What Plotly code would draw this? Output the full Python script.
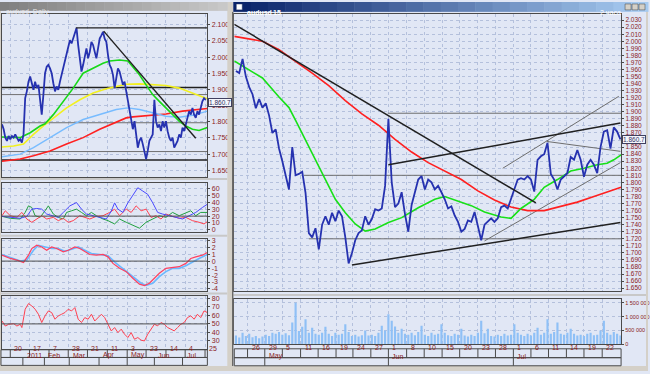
import plotly.graph_objects as go

W, H = 650, 374
def fx(p): return p / W
def fy(p): return 1 - p / H

# ---------------- DATA: left (daily) chart ----------------
left_close = [1.792, 1.777, 1.751, 1.741, 1.756, 1.746, 1.756, 1.751, 1.761, 1.751,
              1.741, 1.746, 1.736, 1.761, 1.873, 1.894, 1.924, 1.940, 1.914, 1.899,
              1.924, 1.904, 1.914, 1.873, 1.822, 1.884, 1.950, 1.970, 1.976, 1.965,
              1.950, 1.919, 1.894, 1.909, 1.899, 1.924, 1.945, 1.965, 1.986, 2.016,
              2.037, 2.052, 2.042, 2.057, 2.078, 2.090, 2.037, 1.986, 1.955, 1.976,
              2.006, 2.027, 1.996, 2.016, 2.047, 2.037, 2.016, 1.996, 2.027, 2.057,
              2.067, 2.078, 2.057, 2.047, 2.006, 1.976, 1.965, 1.945, 1.904, 1.935,
              1.965, 1.955, 1.935, 1.914, 1.924, 1.894, 1.863, 1.833, 1.802, 1.777,
              1.802, 1.761, 1.720, 1.741, 1.751, 1.731, 1.710, 1.685, 1.710, 1.741,
              1.751, 1.761, 1.868, 1.802, 1.782, 1.792, 1.771, 1.802, 1.782, 1.802,
              1.771, 1.751, 1.741, 1.751, 1.720, 1.731, 1.741, 1.761, 1.751, 1.782,
              1.771, 1.792, 1.812, 1.833, 1.822, 1.843, 1.822, 1.812, 1.833, 1.822,
              1.843, 1.863, 1.873, 1.868]

l_green_bar = [1, 12, 14, 18, 24, 27, 32, 38, 44, 50, 56, 62, 66, 72, 77, 80, 84, 88,
               92, 96, 100, 104, 108, 112, 116, 120, 123, 125]
l_green = [1.753, 1.751, 1.756, 1.766, 1.787, 1.794, 1.822, 1.863, 1.904, 1.950, 1.965,
           1.981, 1.988, 1.991, 1.988, 1.970, 1.945, 1.914, 1.884, 1.863, 1.843, 1.822,
           1.802, 1.787, 1.777, 1.773, 1.777, 1.782]
l_yellow_bar = [1, 8, 14, 20, 26, 32, 40, 48, 56, 64, 70, 76, 84, 92, 100, 108, 116, 125]
l_yellow = [1.722, 1.725, 1.731, 1.761, 1.787, 1.812, 1.843, 1.868, 1.889, 1.902, 1.909,
            1.916, 1.917, 1.914, 1.912, 1.904, 1.889, 1.871]
l_lblue_bar = [1, 12, 20, 30, 40, 50, 60, 70, 77, 84, 92, 100, 108, 116, 125]
l_lblue = [1.692, 1.700, 1.720, 1.751, 1.782, 1.807, 1.822, 1.838, 1.843, 1.838, 1.828,
           1.817, 1.814, 1.820, 1.833]
l_red_bar = [1, 12, 20, 30, 40, 50, 60, 70, 76, 80, 90, 100, 110, 120, 125]
l_red = [1.678, 1.685, 1.695, 1.710, 1.731, 1.751, 1.777, 1.800, 1.812, 1.815, 1.820,
         1.824, 1.833, 1.838, 1.841]

# drawn objects on the left chart (time in bars, price)
l_top_line_bar = [45.6, 125]; l_top_line = [2.090, 2.090]
l_trend_bar = [62.4, 118]; l_trend = [2.080, 1.749]
l_black_levels = [1.906, 1.682]
l_gray_levels = [1.884, 1.797, 1.708]

# ADX / DMI panel
adx_blue_bar = [1, 6, 12, 16, 19, 22, 25, 28, 30, 32, 35, 38, 42, 46, 49, 52, 56, 60, 64,
                67, 69, 71, 74, 77, 80, 83, 86, 89, 92, 95, 98, 102, 106, 110, 114, 118,
                122, 125]
adx_blue = [19.7, 18.2, 16.8, 19.7, 30.2, 31.2, 30.2, 23.0, 21.6, 20.6, 18.2, 25.4, 35.0,
            39.8, 30.2, 23.0, 20.6, 18.2, 15.8, 27.4, 39.4, 30.2, 25.4, 39.4, 51.4, 61.4,
            56.6, 51.8, 39.4, 25.4, 23.0, 20.6, 18.2, 15.8, 20.6, 25.4, 32.6, 37.4]
adx_green_bar = [1, 6, 12, 15, 17, 19, 21, 24, 27, 29, 32, 35, 38, 40, 43, 46, 49, 52, 55,
                 58, 62, 65, 69, 72, 76, 80, 84, 88, 92, 96, 100, 104, 108, 112, 115, 118,
                 121, 125]
adx_green = [19.7, 16.8, 15.8, 25.4, 35.0, 32.6, 20.6, 18.2, 27.8, 35.0, 23.0, 18.2, 15.8,
             25.4, 27.8, 30.2, 25.4, 20.6, 25.4, 20.6, 15.8, 13.4, 8.6, 15.8, 11.0, 6.2,
             2.4, 11.0, 15.8, 20.6, 18.2, 25.4, 20.6, 25.4, 27.8, 20.6, 25.4, 25.4]
adx_red_bar = [1, 3, 6, 10, 13, 16, 19, 22, 25, 28, 32, 35, 38, 41, 44, 48, 51, 54, 58, 62,
               66, 69, 72, 76, 79, 82, 85, 88, 91, 94, 97, 100, 104, 108, 112, 116, 120,
               123, 125]
adx_red = [20.6, 27.8, 20.6, 18.2, 25.4, 15.8, 11.0, 15.8, 20.6, 15.8, 18.2, 13.4, 16.8,
           11.0, 13.4, 20.6, 18.2, 15.8, 19.7, 20.6, 25.4, 30.2, 20.6, 30.2, 25.4, 35.0,
           27.8, 30.2, 18.2, 20.6, 15.8, 23.0, 19.7, 16.8, 18.2, 13.4, 11.0, 8.6, 12.0]

# MACD panel
macd_red_bar = [1, 6, 10, 14, 17, 19, 22, 25, 28, 31, 34, 38, 41, 45, 48, 51, 54, 58, 62,
                65, 68, 72, 76, 80, 84, 87, 90, 93, 96, 100, 104, 108, 112, 115, 118, 122, 125]
macd_red = [0.85, 0.38, 0.14, -0.19, 0.85, 1.80, 2.27, 2.03, 1.56, 2.03, 1.80, 1.32, 1.56,
            2.03, 1.80, 1.32, 0.95, 0.85, 0.95, 0.61, -0.33, -1.04, -1.51, -2.46, -3.31,
            -3.50, -3.17, -2.46, -1.75, -1.04, -0.95, -0.80, -0.33, 0.38, 0.61, 0.85, 1.23]
macd_blue_bar = [1, 6, 12, 16, 20, 23, 27, 31, 35, 39, 43, 47, 51, 55, 60, 65, 70, 75, 80,
                 85, 88, 92, 96, 100, 104, 108, 112, 116, 120, 125]
macd_blue = [0.95, 0.47, 0.0, 0.14, 1.56, 2.27, 2.03, 1.80, 1.80, 1.42, 1.70, 2.03, 1.56,
             1.09, 0.95, 0.76, -0.33, -1.28, -2.22, -3.17, -3.50, -3.17, -2.22, -1.51,
             -1.04, -1.04, -0.66, -0.09, 0.38, 0.95]

# RSI panel
rsi = [53.4, 47.5, 49.5, 50.3, 47.5, 49.5, 45.7, 67.2, 73.8, 71.1, 67.2, 61.3, 51.6, 59.4,
       65.2, 63.3, 55.5, 59.4, 61.3, 63.3, 67.2, 65.2, 69.1, 55.5, 51.6, 57.4, 55.5, 61.3,
       53.4, 57.4, 61.3, 57.4, 49.5, 41.7, 45.7, 39.8, 43.8, 37.9, 34.0, 39.8, 32.0, 34.0,
       30.9, 30.0, 37.9, 43.8, 49.6, 47.7, 51.6, 49.6, 45.7, 43.8, 41.8, 45.7, 49.6, 51.6,
       57.4, 59.4, 55.5, 61.3, 57.4, 65.2, 63.3]
rsi_bar = [1, 3, 5, 8, 10, 12, 13, 15, 17, 19, 21, 23, 25, 27, 29, 31, 33, 35, 37, 39, 41,
           43, 45, 47, 49, 51, 53, 55, 57, 59, 61, 63, 65, 67, 69, 71, 73, 75, 77, 79, 81,
           83, 85, 87, 89, 91, 93, 95, 97, 99, 101, 103, 105, 107, 109, 111, 113, 115, 117,
           119, 121, 123, 125]

left_day_sep = [6, 17.6, 29.4, 41, 52.6, 64.6, 76.6, 88, 100, 111.6, 123.6]
left_day_labels = ["20", "17", "7", "28", "21", "11", "3", "23", "14", "4", "25"]
left_month_sep = [13.6, 26.6, 41.6, 59.6, 76.6, 93, 110]
left_month_labels = ["2011", "Feb", "Mar", "Apr", "May", "Jun", "Jul"]

# ---------------- DATA: right (intraday) chart ----------------
r_close = [1.958, 1.955, 1.975, 1.950, 1.935, 1.925, 1.905, 1.918, 1.906, 1.912,
           1.895, 1.870, 1.875, 1.848, 1.830, 1.812, 1.790, 1.850, 1.810, 1.812,
           1.815, 1.785, 1.728, 1.722, 1.735, 1.705, 1.740, 1.752, 1.740, 1.757,
           1.745, 1.760, 1.752, 1.722, 1.685, 1.700, 1.718, 1.728, 1.732, 1.752,
           1.740, 1.748, 1.762, 1.760, 1.763, 1.795, 1.890, 1.800, 1.765, 1.770,
           1.786, 1.755, 1.730, 1.768, 1.785, 1.804, 1.809, 1.790, 1.804, 1.800,
           1.790, 1.795, 1.786, 1.776, 1.763, 1.766, 1.753, 1.744, 1.730, 1.734,
           1.746, 1.744, 1.758, 1.740, 1.718, 1.740, 1.745, 1.749, 1.744, 1.749,
           1.765, 1.767, 1.763, 1.776, 1.790, 1.804, 1.806, 1.804, 1.809, 1.804,
           1.787, 1.832, 1.837, 1.840, 1.856, 1.812, 1.804, 1.790, 1.804, 1.809,
           1.813, 1.836, 1.832, 1.846, 1.832, 1.808, 1.825, 1.832, 1.825, 1.813,
           1.850, 1.872, 1.874, 1.848, 1.878, 1.872, 1.861]
r_bar = list(range(2, 2 + len(r_close)))

r_volume_k = [320, 250, 420, 300, 380, 260, 300, 220, 280, 350, 300, 420, 380, 450, 350,
              400, 330, 790, 1500, 480, 640, 910, 420, 600, 380, 350, 420, 640, 380, 300,
              420, 350, 380, 730, 450, 300, 350, 280, 330, 500, 320, 350, 300, 420, 670,
              500, 1090, 850, 650, 420, 560, 380, 350, 420, 330, 450, 670, 350, 300, 420,
              350, 380, 730, 420, 330, 300, 380, 350, 560, 320, 280, 350, 300, 420, 850,
              400, 560, 300, 280, 350, 300, 380, 320, 350, 730, 420, 350, 300, 380, 320,
              420, 600, 350, 420, 910, 380, 450, 790, 380, 350, 420, 560, 380, 320, 350,
              300, 380, 420, 330, 350, 500, 850, 420, 350, 450, 380, 320]

r_red_bar = [1.5, 10, 15, 20, 25, 30, 35, 40, 45, 50, 55, 60, 65, 70, 75, 80, 85, 90, 95,
             100, 105, 110, 115, 118.2]
r_red = [2.007, 2.000, 1.988, 1.972, 1.955, 1.937, 1.916, 1.897, 1.881, 1.861, 1.843,
         1.828, 1.816, 1.804, 1.788, 1.775, 1.765, 1.760, 1.760, 1.766, 1.772, 1.780,
         1.788, 1.793]
r_green_bar = [1.5, 5, 10, 15, 18, 20, 23, 26, 29, 32, 35, 38, 41, 44, 48, 52, 57, 62, 65,
               69, 73, 77, 82, 85, 88, 92, 95, 99, 103, 107, 111, 114, 116, 118.2]
r_green = [1.972, 1.962, 1.948, 1.921, 1.906, 1.888, 1.860, 1.832, 1.804, 1.776, 1.757,
           1.741, 1.731, 1.734, 1.743, 1.750, 1.764, 1.776, 1.780, 1.774, 1.767, 1.758,
           1.751, 1.749, 1.763, 1.776, 1.793, 1.804, 1.816, 1.820, 1.825, 1.827, 1.832,
           1.839]

# drawn objects on the right chart: (bar0, price0, bar1, price1)
r_black_lines = [(1.5, 2.024, 92.5, 1.771),
                 (48, 1.825, 118, 1.884),
                 (37, 1.683, 118, 1.743)]
r_gray_lines = [(47.8, 1.898, 118.2, 1.898),
                (22.5, 1.810, 118.2, 1.810),
                (24, 1.720, 118.2, 1.720),
                (82.5, 1.820, 117.5, 1.922),
                (77, 1.717, 118, 1.828),
                (95.8, 1.858, 118, 1.844)]

right_day_sep = [5.5, 10.7, 16, 21.5, 26.8, 32.2, 37.3, 42.7, 48, 53.5, 58.8, 64.2, 69.5,
                 75, 80.3, 85.7, 91, 96.3, 101.7, 107, 112.5]
right_day_labels = ["26", "29", "5", "11", "16", "19", "24", "27", "1", "8", "10", "15",
                    "20", "23", "28", "1", "6", "11", "14", "19", "22"]
right_month_sep = [10.7, 48, 85.7]
right_month_labels = ["May", "Jun", "Jul"]

last_price = 1.8607
last_price_text = "1.860.7"

# ---------------- STYLE / LAYOUT ----------------
BG = "#e1e7f5"
FRAME = "#d4d0c8"
BORDER = "#4a4a4a"
GRID = "#b4c0dc"
TXT = "#8a1c1c"
FONT = "Liberation Sans, Arial, sans-serif"

L_X = (2, 208); L_RANGE = (1, 125)
R_X = (235, 623); R_RANGE = (1.5, 118.2)

fig = go.Figure()

def add_line(x, y, color, width, xa, ya):
    fig.add_trace(go.Scatter(x=x, y=y, mode="lines", xaxis=xa, yaxis=ya,
                             line=dict(color=color, width=width),
                             hoverinfo="skip", showlegend=False))

# left main
lbars = list(range(1, len(left_close) + 1))
for lv in l_gray_levels:
    add_line([L_RANGE[0], L_RANGE[1]], [lv, lv], "#707070", 1, "x", "y")
for lv in l_black_levels:
    add_line([L_RANGE[0], L_RANGE[1]], [lv, lv], "#202020", 1.4, "x", "y")
add_line(l_red_bar, l_red, "#ff2020", 1.6, "x", "y")
add_line(l_lblue_bar, l_lblue, "#78bcff", 1.4, "x", "y")
add_line(l_yellow_bar, l_yellow, "#f2f020", 1.6, "x", "y")
add_line(l_green_bar, l_green, "#18d818", 1.6, "x", "y")
add_line(lbars, left_close, "#2632b0", 1.8, "x", "y")
add_line(l_top_line_bar, l_top_line, "#202020", 1.4, "x", "y")
add_line(l_trend_bar, l_trend, "#202020", 1.4, "x", "y")

# left indicators
add_line(adx_green_bar, adx_green, "#22a040", 1, "x2", "y2")
add_line(adx_red_bar, adx_red, "#ff4050", 1, "x2", "y2")
add_line(adx_blue_bar, adx_blue, "#4a4aff", 1, "x2", "y2")
add_line(macd_blue_bar, macd_blue, "#6ab8ff", 1.6, "x3", "y3")
add_line(macd_red_bar, macd_red, "#ff4060", 1.2, "x3", "y3")
add_line(rsi_bar, rsi, "#ff4050", 1, "x4", "y4")

# right main
for (a, b, c, d) in r_gray_lines:
    add_line([a, c], [b, d], "#6e6e6e", 1, "x5", "y5")
add_line(r_red_bar, r_red, "#ff2020", 1.6, "x5", "y5")
add_line(r_green_bar, r_green, "#18e018", 1.6, "x5", "y5")
add_line(r_bar, r_close, "#2632b0", 1.8, "x5", "y5")
for (a, b, c, d) in r_black_lines:
    add_line([a, c], [b, d], "#202020", 1.5, "x5", "y5")

# volume
fig.add_trace(go.Bar(x=r_bar, y=[v * 1000 for v in r_volume_k], xaxis="x6", yaxis="y6",
                     marker=dict(color="#8fc0f6", line=dict(width=0)),
                     hoverinfo="skip", showlegend=False))

def xaxis(px_rng, rng, tickvals, anchor):
    return dict(domain=[fx(px_rng[0]), fx(px_rng[1])], range=list(rng), anchor=anchor,
                showline=True, mirror=True, linecolor=BORDER, linewidth=1,
                showgrid=True, gridcolor=GRID, griddash="dot", gridwidth=1,
                tickvals=tickvals, showticklabels=False, ticks="", zeroline=False,
                fixedrange=True)

def yaxis(py_rng, rng, tickvals, ticktext, anchor, size=7):
    return dict(domain=[fy(py_rng[1]), fy(py_rng[0])], range=list(rng), anchor=anchor,
                side="right", showline=True, mirror=True, linecolor=BORDER, linewidth=1,
                showgrid=True, gridcolor=GRID, griddash="dot", gridwidth=1,
                tickvals=tickvals, ticktext=ticktext, ticks="outside", ticklen=2,
                tickcolor=BORDER, tickfont=dict(size=size, color=TXT, family=FONT),
                zeroline=False, fixedrange=True)

l_yt = [round(1.65 + 0.05 * i, 3) for i in range(10)]
r_yt = [round(1.65 + 0.01 * i, 3) for i in range(40)]
vol_t = [0, 500000, 1000000, 1500000]

fig.update_layout(
    width=W, height=H, margin=dict(l=0, r=0, t=0, b=0),
    paper_bgcolor=BG, plot_bgcolor=BG, showlegend=False, bargap=0.35,
    font=dict(family=FONT, size=7, color=TXT),
    xaxis=xaxis(L_X, L_RANGE, left_day_sep, "y"),
    yaxis=yaxis((12, 177), (1.6305, 2.1335), l_yt, ["%.3f" % v for v in l_yt], "x"),
    xaxis2=xaxis(L_X, L_RANGE, left_day_sep, "y2"),
    yaxis2=yaxis((183, 233), (-3, 69), [0, 10, 20, 30, 40, 50, 60],
                 ["0", "10", "20", "30", "40", "50", "60"], "x2"),
    xaxis3=xaxis(L_X, L_RANGE, left_day_sep, "y3"),
    yaxis3=yaxis((240, 293), (-4.3, 3.2), list(range(-4, 4)),
                 [str(v) for v in range(-4, 4)], "x3"),
    xaxis4=xaxis(L_X, L_RANGE, left_day_sep, "y4"),
    yaxis4=yaxis((298, 352), (20.2, 82.7), [30, 40, 50, 60, 70, 80],
                 ["30", "40", "50", "60", "70", "80"], "x4"),
    xaxis5=xaxis(R_X, R_RANGE, right_day_sep, "y5"),
    yaxis5=yaxis((12, 293), (1.6459, 2.0389), r_yt, ["%.3f" % v for v in r_yt], "x5", 6.5),
    xaxis6=xaxis(R_X, R_RANGE, right_day_sep, "y6"),
    yaxis6=yaxis((301, 347), (0, 1640000), vol_t,
                 ["0", "500 000", "1 000 000", "1 500 000"], "x6", 5.5),
)

shapes = []
ann = []

def rect(x0, y0, x1, y1, fill, line=None, lw=0):
    shapes.append(dict(type="rect", xref="paper", yref="paper", x0=fx(x0), x1=fx(x1),
                       y0=fy(y1), y1=fy(y0), fillcolor=fill,
                       line=dict(color=line or fill, width=lw), layer="above"))

def vline_px(x, y0, y1, color, w=1):
    shapes.append(dict(type="line", xref="paper", yref="paper", x0=fx(x), x1=fx(x),
                       y0=fy(y0), y1=fy(y1), line=dict(color=color, width=w)))

# reference lines in indicator panels
for xa, ya, v in [("x2", "y2", 20), ("x3", "y3", 0), ("x4", "y4", 50)]:
    shapes.append(dict(type="line", xref=xa + " domain", yref=ya, x0=0, x1=1, y0=v, y1=v,
                       line=dict(color="#505050", width=1)))

# panel separators (grey bands)
for y in (178.5, 236, 294.5):
    rect(0, y, 228, y + 2, "#c8c8c8")
rect(234, 296, 648, 298, "#c8c8c8")

# window frames
rect(228, 0, 234, 374, FRAME)
vline_px(233.5, 10, 369, "#404040", 1)
rect(648, 0, 650, 374, FRAME)
rect(0, 369, 650, 374, FRAME)
rect(0, 9, 1, 369, FRAME)

# title bars with stepped gradient
n = 24
for i in range(n):
    t = i / (n - 1)
    g = int(128 + t * (200 - 128))
    rect(i * 228 / n, 0, (i + 1) * 228 / n + 0.5, 9, "rgb(%d,%d,%d)" % (g, g, g))
    r = int(10 + t * (166 - 10)); gg = int(36 + t * (202 - 36)); b = int(106 + t * (240 - 106))
    rect(234 + i * 416 / n, 0, 234 + (i + 1) * 416 / n + 0.5, 10, "rgb(%d,%d,%d)" % (r, gg, b))
for bx in (627, 634, 641):
    rect(bx, 2, bx + 6, 8, FRAME, "#404040", 0.5)
ann.append(dict(x=fx(4), y=fy(4.5), xref="paper", yref="paper", text="audusd, Daily",
                showarrow=False, xanchor="left", font=dict(size=7, color="#e8e8e8", family=FONT)))
rect(237, 2, 243, 8, "#ffffff", "#203060", 0.5)
ann.append(dict(x=fx(246), y=fy(5), xref="paper", yref="paper", text="<b>audusd</b>",
                showarrow=False, xanchor="left", font=dict(size=7, color="#ffffff", family=FONT)))
ann.append(dict(x=fx(272), y=fy(5), xref="paper", yref="paper", text="<b>15</b>",
                showarrow=False, xanchor="left", font=dict(size=7, color="#ffffff", family=FONT)))
ann.append(dict(x=fx(625), y=fy(5), xref="paper", yref="paper", text="2 часа",
                showarrow=False, xanchor="right", font=dict(size=7, color="#ffffff", family=FONT)))

# date strips
def bar_to_px(b, side):
    if side == "L":
        return L_X[0] + (b - L_RANGE[0]) / (L_RANGE[1] - L_RANGE[0]) * (L_X[1] - L_X[0])
    return R_X[0] + (b - R_RANGE[0]) / (R_RANGE[1] - R_RANGE[0]) * (R_X[1] - R_X[0])

def strip(side, x0, x1, y0, ymid, y1, seps, labels, msep, mlabels):
    rect(x0, y0, x1, ymid, "rgba(0,0,0,0)", BORDER, 1)
    rect(x0, ymid, x1, y1, "rgba(0,0,0,0)", BORDER, 1)
    for s, lab in zip(seps, labels):
        p = bar_to_px(s, side)
        if p <= x1:
            vline_px(p, y0, ymid, BORDER)
        ann.append(dict(x=fx(p + 2), y=fy((y0 + ymid) / 2), xref="paper", yref="paper",
                        text=lab, showarrow=False, xanchor="left",
                        font=dict(size=7, color=TXT, family=FONT)))
    for s, lab in zip(msep, mlabels):
        p = bar_to_px(s, side)
        vline_px(p, ymid, y1, BORDER)
        ann.append(dict(x=fx(p + 2), y=fy((ymid + y1) / 2), xref="paper", yref="paper",
                        text=lab, showarrow=False, xanchor="left",
                        font=dict(size=7, color=TXT, family=FONT)))

strip("L", 1, 208, 352.5, 360.3, 368.3, left_day_sep, left_day_labels,
      left_month_sep, left_month_labels)
strip("R", 235, 623, 351.5, 360.5, 368.7, right_day_sep, right_day_labels,
      right_month_sep, right_month_labels)

# last price boxes
for ya, x0 in [("y", 209), ("y5", 624)]:
    ann.append(dict(x=fx(x0), y=last_price, xref="paper", yref=ya, text=last_price_text,
                    showarrow=False, xanchor="left", bgcolor="#f4f6fc",
                    bordercolor="#404060", borderwidth=1, borderpad=0,
                    font=dict(size=6.5, color="#303060", family=FONT)))

fig.update_layout(shapes=shapes, annotations=ann)
fig.write_html("out.html", config={"displayModeBar": False},
               post_script="document.body.style.margin='0';document.body.style.padding='0';"
                           "document.body.style.overflow='hidden';")
